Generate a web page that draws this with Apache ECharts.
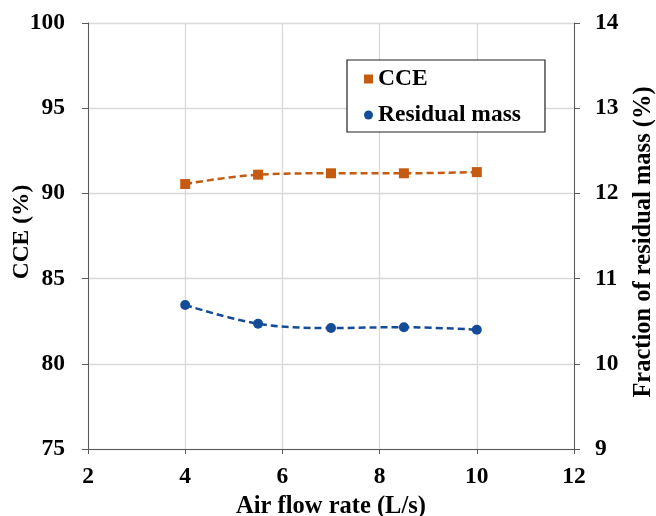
<!DOCTYPE html>
<html><head><meta charset="utf-8">
<script src="https://cdn.jsdelivr.net/npm/echarts@6/dist/echarts.min.js"></script>
<style>html,body{margin:0;padding:0;background:#fff}#c{width:656px;height:516px}</style>
</head><body><div id="c"></div>
<script>
const airFlow = [4, 5.5, 7, 8.5, 10];
const cce = [90.55, 91.1, 91.18, 91.18, 91.25];
const residual = [10.69, 10.47, 10.42, 10.43, 10.40];
const xTicks = [2, 4, 6, 8, 10, 12];
const leftTicks = [75, 80, 85, 90, 95, 100];
const rightTicks = [9, 10, 11, 12, 13, 14];

const FONT = '"Liberation Serif", "Times New Roman", serif';
const txt = {fontFamily: FONT, fontWeight: 'bold', fontSize: 23.5, color: '#000'};
const chart = echarts.init(document.getElementById('c'));
chart.setOption({
  animation: false,
  grid: {left: 88, right: 82, top: 23, bottom: 67, containLabel: false, outerBoundsMode: 'none'},
  legend: {
    orient: 'vertical', left: 347, top: 60,
    padding: [7, 24, 5, 17], itemGap: 12,
    backgroundColor: '#fff', borderColor: '#222', borderWidth: 1.2,
    itemWidth: 9, itemHeight: 9,
    textStyle: Object.assign({}, txt),
    data: [{name: 'CCE', icon: 'rect'}, {name: 'Residual mass', icon: 'circle'}]
  },
  xAxis: {
    type: 'value', min: xTicks[0], max: xTicks[xTicks.length-1], interval: 2,
    name: 'Air flow rate (L/s)', nameLocation: 'middle', nameGap: 45, nameMoveOverlap: false,
    nameTextStyle: Object.assign({}, txt, {fontSize: 24.5}),
    axisLine: {show: true, lineStyle: {color: '#595959', width: 1}},
    axisTick: {show: true, length: 5, lineStyle: {color: '#595959'}},
    axisLabel: Object.assign({}, txt, {margin: 16}),
    splitLine: {show: true, lineStyle: {color: '#d9d9d9', width: 1.3}}
  },
  yAxis: [{
    type: 'value', min: leftTicks[0], max: leftTicks[leftTicks.length-1], interval: 5,
    name: 'CCE (%)', nameLocation: 'middle', nameGap: 54, nameRotate: 90, nameMoveOverlap: false,
    nameTextStyle: Object.assign({}, txt, {padding: [0, 0, 0, 8]}),
    axisLine: {show: true, lineStyle: {color: '#595959', width: 1}},
    axisTick: {show: true, length: 6, lineStyle: {color: '#595959'}},
    axisLabel: Object.assign({}, txt, {margin: 23}),
    splitLine: {show: true, lineStyle: {color: '#d9d9d9', width: 1.3}}
  }, {
    type: 'value', position: 'right', min: rightTicks[0], max: rightTicks[rightTicks.length-1], interval: 1,
    name: 'Fraction of residual mass (%)', nameLocation: 'middle', nameGap: 57, nameRotate: 90, nameMoveOverlap: false,
    nameTextStyle: Object.assign({}, txt, {fontSize: 24.5, padding: [0, 12, 0, 0]}),
    axisLine: {show: true, lineStyle: {color: '#595959', width: 1}},
    axisTick: {show: true, length: 6, lineStyle: {color: '#595959'}},
    axisLabel: Object.assign({}, txt, {margin: 21}),
    splitLine: {show: false}
  }],
  series: [{
    name: 'CCE', type: 'line', yAxisIndex: 0, smooth: 0.35,
    data: airFlow.map((x, i) => [x, cce[i]]),
    symbol: 'rect', symbolSize: 10,
    itemStyle: {color: '#c55a11'},
    lineStyle: {color: '#c55a11', width: 2.5, type: [7, 4]}
  }, {
    name: 'Residual mass', type: 'line', yAxisIndex: 1, smooth: 0.35,
    data: airFlow.map((x, i) => [x, residual[i]]),
    symbol: 'circle', symbolSize: 10,
    itemStyle: {color: '#154c98'},
    lineStyle: {color: '#154c98', width: 2.5, type: [7, 4]}
  }]
});
</script></body></html>
